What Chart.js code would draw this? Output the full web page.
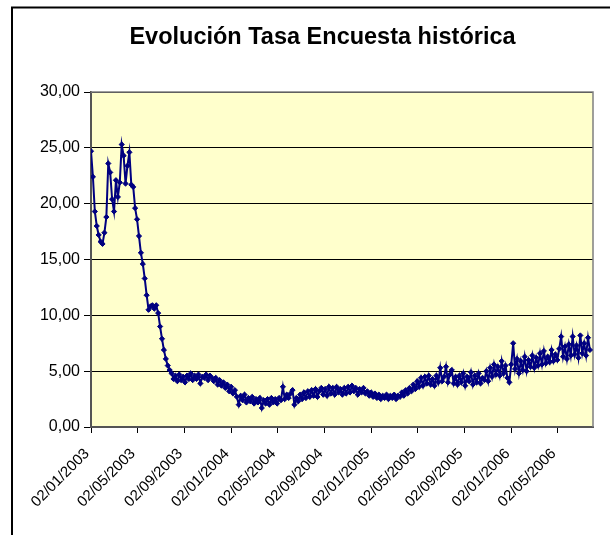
<!DOCTYPE html>
<html><head><meta charset="utf-8">
<script src="https://cdn.jsdelivr.net/npm/chart.js@4.4.0/dist/chart.umd.min.js"></script>
<style>html,body{margin:0;padding:0;background:#fff;overflow:hidden}canvas{display:block}</style>
</head><body>
<canvas id="c" width="610" height="535"></canvas>
<script>
const titleText = 'Evolución Tasa Encuesta histórica';
const startDate = '2003-01-02';
const stepDays = 5;
const tasa2003 = [
 24.7,22.4,19.3,18.0,17.2,16.6,16.4,17.4,18.8,23.6,
 22.8,20.4,19.3,22.1,20.6,21.9,25.3,24.3,21.8,23.4,
 24.6,21.7,21.5,19.6,18.6,17.1,15.6,14.6,13.3,11.8,
 10.5,10.8,10.9,10.6,10.9,10.2,9.0,7.9,6.9,6.1,
 5.5,5.1,4.8,4.3,4.6,4.1,4.7,4.2,4.5,4.0,
 4.6,4.3,4.8,4.2,4.6,4.3,4.7,3.9,4.5,4.4,
 4.7,4.2,4.6,4.4,4.1,4.4,3.8,4.2,3.7,4.0,
 3.5,3.8,3.2];
const tasa2004 = [
 3.6,3.0,3.3,2.7,2.0,2.8,2.4,2.9,2.2,2.6,
 2.3,2.7,2.1,2.5,2.2,2.6,1.7,2.4,2.1,2.5,
 2.0,2.6,2.2,2.5,2.1,2.6,2.4,3.6,2.5,2.9,
 2.6,3.0,3.3,2.0,2.6,2.3,2.9,2.5,3.1,2.6,
 3.2,2.7,3.3,2.8,3.4,2.7,3.2,3.5,2.9,3.4,
 2.8,3.6,3.0,3.5,2.9,3.6,3.1,3.4,2.9,3.5,
 3.0,3.6,3.1,3.7,3.2,3.5,2.9,3.4,3.1,3.5,
 3.0,3.2,2.8];
const tasa2005 = [
 3.1,2.7,3.0,2.6,2.9,2.5,2.8,2.6,2.9,2.5,
 2.8,2.6,2.9,2.5,2.8,2.7,3.1,2.8,3.3,3.0,
 3.5,3.2,3.8,3.4,4.1,3.6,4.4,3.7,4.5,3.9,
 4.6,3.8,4.3,3.7,4.6,4.0,5.3,4.1,4.5,5.4,
 4.0,4.7,5.1,3.9,4.5,3.8,4.6,4.0,4.8,3.7,
 4.5,4.1,4.9,3.8,4.6,4.0,4.8,3.9,4.4,4.2,
 5.0,4.1,5.3,4.5,5.6,4.7,5.4,4.6,5.9,4.8,
 5.5,4.4,4.0];
const tasa2006 = [
 5.6,7.5,5.2,6.1,4.8,5.9,5.1,6.3,5.0,6.0,
 5.4,6.4,5.3,6.2,5.5,6.6,5.6,6.8,5.7,6.3,
 5.8,6.9,5.9,6.5,6.0,7.0,8.1,6.3,7.2,6.1,
 7.4,6.4,8.1,6.5,7.3,6.2,8.2,6.6,7.5,6.4,
 8.0,6.9];
const tickDates = ['2003-01-02','2003-05-02','2003-09-02','2004-01-02','2004-05-02','2004-09-02',
                   '2005-01-02','2005-05-02','2005-09-02','2006-01-02','2006-05-02'];
const tickLabels = ['02/01/2003','02/05/2003','02/09/2003','02/01/2004','02/05/2004','02/09/2004',
                    '02/01/2005','02/05/2005','02/09/2005','02/01/2006','02/05/2006'];
const yMin = 0, yMax = 30, yStep = 5;
const xMaxDays = 1308;

const t0 = Date.parse(startDate);
const dayOf = s => Math.round((Date.parse(s) - t0) / 86400000);
const tickDays = tickDates.map(dayOf);
const values = [].concat(tasa2003, tasa2004, tasa2005, tasa2006);
const points = values.map((v, i) => ({x: i * stepDays, y: v}));

const FONT = '"Liberation Sans", Arial, sans-serif';

const frame = {
  id: 'frame',
  beforeDraw(chart) {
    const {ctx, chartArea: a} = chart;
    ctx.save();
    ctx.fillStyle = '#fff';
    ctx.fillRect(0, 0, chart.width, chart.height);
    ctx.strokeStyle = '#000';
    ctx.lineWidth = 2;
    ctx.beginPath();
    ctx.moveTo(12, chart.height + 5);
    ctx.lineTo(12, 7.5);
    ctx.lineTo(chart.width + 5, 7.5);
    ctx.stroke();
    ctx.fillStyle = '#FFFFCC';
    ctx.fillRect(a.left, a.top, a.right - a.left, a.bottom - a.top);
    ctx.restore();
  },
  beforeDatasetsDraw(chart) {
    const {ctx, chartArea: a} = chart;
    ctx.save();
    ctx.strokeStyle = '#808080';
    ctx.lineWidth = 1.5;
    ctx.beginPath();
    ctx.moveTo(a.left, a.top);
    ctx.lineTo(a.right, a.top);
    ctx.lineTo(a.right, a.bottom);
    ctx.stroke();
    ctx.restore();
  },
  afterDraw(chart) {
    const ctx = chart.ctx;
    ctx.save();
    ctx.fillStyle = '#000';
    ctx.font = 'bold 23.5px ' + FONT;
    ctx.textAlign = 'center';
    ctx.textBaseline = 'alphabetic';
    ctx.fillText(titleText, 322.5, 44);
    ctx.restore();
  }
};

new Chart(document.getElementById('c'), {
  type: 'line',
  data: {
    datasets: [{
      data: points,
      borderColor: '#000080',
      backgroundColor: '#000080',
      borderWidth: 2,
      pointStyle: 'rectRot',
      pointRadius: 2.6,
      pointBorderWidth: 1,
      pointBackgroundColor: '#000080',
      pointBorderColor: '#000080',
      tension: 0,
      fill: false
    }]
  },
  options: {
    responsive: false,
    animation: false,
    devicePixelRatio: 1,
    layout: {padding: {left: 0, right: 17, top: 92, bottom: 0}},
    plugins: {legend: {display: false}, tooltip: {enabled: false}, title: {display: false}},
    scales: {
      x: {
        type: 'linear', min: 0, max: xMaxDays,
        afterBuildTicks: s => { s.ticks = tickDays.map(v => ({value: v})); },
        afterFit: s => { s.height = 108; },
        grid: {drawOnChartArea: false, drawTicks: true, tickLength: 6, tickColor: '#000'},
        border: {color: '#555', width: 2},
        ticks: {autoSkip: false, minRotation: 45, maxRotation: 45, padding: 12, labelOffset: -4,
                color: '#000', font: {family: FONT, size: 15},
                callback: (v, i) => tickLabels[i]}
      },
      y: {
        min: yMin, max: yMax,
        afterFit: s => { s.width = 91; },
        grid: {color: '#000', lineWidth: 1, tickLength: 7, tickColor: '#000'},
        border: {color: '#555', width: 2},
        ticks: {stepSize: yStep, padding: 4, color: '#000', font: {family: FONT, size: 16},
                callback: v => v.toFixed(2).replace('.', ',')}
      }
    }
  },
  plugins: [frame]
});
</script>
</body></html>
